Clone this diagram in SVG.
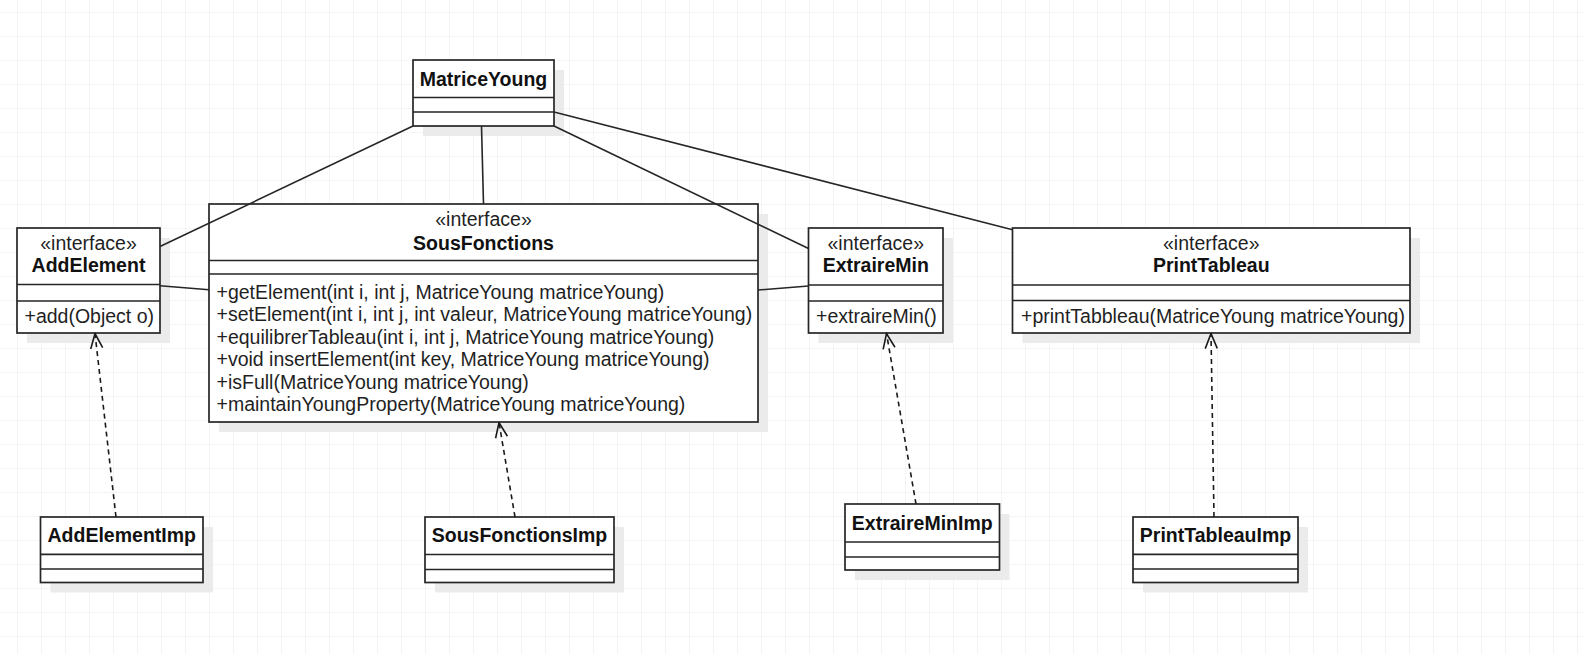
<svg xmlns="http://www.w3.org/2000/svg" width="1583" height="654" viewBox="0 0 1583 654">
<style>
.box{fill:#ffffff;stroke:#262626;stroke-width:1.7}
.div{stroke:#262626;stroke-width:1.7;fill:none}
.shadow{fill:#ebebeb}
.t{font-family:"Liberation Sans",Arial,sans-serif;font-size:19.5px;fill:#1f1f1f}
.b{font-weight:bold;fill:#111}
.c{text-anchor:middle}
.assoc{stroke:#262626;stroke-width:1.6;fill:none}
.real{stroke:#1a1a1a;stroke-width:1.6;fill:none;stroke-dasharray:5 4}
</style>
<defs>
<pattern id="grid" width="24" height="24" patternUnits="userSpaceOnUse" x="17" y="12">
<path d="M0,0 H24 M0,0 V24" stroke="#ececec" stroke-width="1.2" fill="none"/>
</pattern>
<marker id="open" viewBox="0 0 18 14" refX="17" refY="7" markerWidth="18" markerHeight="14" markerUnits="userSpaceOnUse" orient="auto">
<path d="M2,1 L17,7 L2,13" fill="none" stroke="#1a1a1a" stroke-width="1.6" stroke-dasharray="none"/>
</marker>
</defs>
<rect width="1583" height="654" fill="#ffffff"/>
<rect width="1583" height="654" fill="url(#grid)"/>

<g id="shadows">
<rect class="shadow" x="423" y="70" width="141" height="66"/>
<rect class="shadow" x="219" y="214" width="549" height="218"/>
<rect class="shadow" x="27" y="238" width="143" height="105"/>
<rect class="shadow" x="818.5" y="238" width="134.5" height="105"/>
<rect class="shadow" x="1022.5" y="238" width="397.5" height="105"/>
<rect class="shadow" x="50.5" y="527" width="162.5" height="65.5"/>
<rect class="shadow" x="435" y="527" width="189" height="65.5"/>
<rect class="shadow" x="855" y="514" width="154.5" height="66"/>
<rect class="shadow" x="1143" y="527" width="165" height="65.5"/>
</g>

<g id="MatriceYoung">
<rect class="box" x="413" y="60" width="141" height="66"/>
<path class="div" d="M413,97.5 H554 M413,112 H554"/>
<text class="t b c" x="483.5" y="85.5">MatriceYoung</text>
</g>

<g id="SousFonctions">
<rect class="box" x="209" y="204" width="549" height="218"/>
<path class="div" d="M209,260.5 H758 M209,274 H758"/>
<text class="t c" x="483.5" y="226">«interface»</text>
<text class="t b c" x="483.5" y="249.5">SousFonctions</text>
<text class="t" x="216.5" y="299">+getElement(int i, int j, MatriceYoung matriceYoung)</text>
<text class="t" x="216.5" y="321.4">+setElement(int i, int j, int valeur, MatriceYoung matriceYoung)</text>
<text class="t" x="216.5" y="343.8">+equilibrerTableau(int i, int j, MatriceYoung matriceYoung)</text>
<text class="t" x="216.5" y="366.2">+void insertElement(int key, MatriceYoung matriceYoung)</text>
<text class="t" x="216.5" y="388.6">+isFull(MatriceYoung matriceYoung)</text>
<text class="t" x="216.5" y="411">+maintainYoungProperty(MatriceYoung matriceYoung)</text>
</g>

<g id="AddElement">
<rect class="box" x="17" y="228" width="143" height="105"/>
<path class="div" d="M17,284.5 H160 M17,301 H160"/>
<text class="t c" x="88.5" y="250.3">«interface»</text>
<text class="t b c" x="88.5" y="272">AddElement</text>
<text class="t" x="24.5" y="323">+add(Object o)</text>
</g>

<g id="ExtraireMin">
<rect class="box" x="808.5" y="228" width="134.5" height="105"/>
<path class="div" d="M808.5,285 H943 M808.5,301 H943"/>
<text class="t c" x="875.75" y="250.3">«interface»</text>
<text class="t b c" x="875.75" y="272">ExtraireMin</text>
<text class="t" x="816" y="323">+extraireMin()</text>
</g>

<g id="PrintTableau">
<rect class="box" x="1012.5" y="228" width="397.5" height="105"/>
<path class="div" d="M1012.5,285 H1410 M1012.5,300.5 H1410"/>
<text class="t c" x="1211.25" y="250.3">«interface»</text>
<text class="t b c" x="1211.25" y="272">PrintTableau</text>
<text class="t" x="1021" y="323">+printTabbleau(MatriceYoung matriceYoung)</text>
</g>

<g id="AddElementImp">
<rect class="box" x="40.5" y="517" width="162.5" height="65.5"/>
<path class="div" d="M40.5,554.3 H203 M40.5,569 H203"/>
<text class="t b c" x="121.75" y="541.8">AddElementImp</text>
</g>

<g id="SousFonctionsImp">
<rect class="box" x="425" y="517" width="189" height="65.5"/>
<path class="div" d="M425,554.5 H614 M425,569.5 H614"/>
<text class="t b c" x="519.5" y="541.8">SousFonctionsImp</text>
</g>

<g id="ExtraireMinImp">
<rect class="box" x="845" y="504" width="154.5" height="66"/>
<path class="div" d="M845,542 H999.5 M845,557 H999.5"/>
<text class="t b c" x="922.25" y="529.8">ExtraireMinImp</text>
</g>

<g id="PrintTableauImp">
<rect class="box" x="1133" y="517" width="165" height="65.5"/>
<path class="div" d="M1133,554.3 H1298 M1133,569 H1298"/>
<text class="t b c" x="1215.5" y="541.8">PrintTableauImp</text>
</g>

<g id="connectors">
<line class="assoc" x1="413" y1="126" x2="160" y2="246.5"/>
<line class="assoc" x1="481.5" y1="126" x2="483.5" y2="204"/>
<line class="assoc" x1="554" y1="126" x2="808.5" y2="248.5"/>
<line class="assoc" x1="554" y1="112" x2="1012.5" y2="229.7"/>
<line class="assoc" x1="160" y1="285.8" x2="209" y2="289.7"/>
<line class="assoc" x1="758" y1="290" x2="808.5" y2="286"/>
<line class="real" x1="116" y1="517" x2="95" y2="333.5" marker-end="url(#open)"/>
<line class="real" x1="515" y1="517" x2="499" y2="422.5" marker-end="url(#open)"/>
<line class="real" x1="916" y1="504" x2="886.5" y2="333.5" marker-end="url(#open)"/>
<line class="real" x1="1214" y1="517" x2="1211" y2="333.5" marker-end="url(#open)"/>
</g>
</svg>
